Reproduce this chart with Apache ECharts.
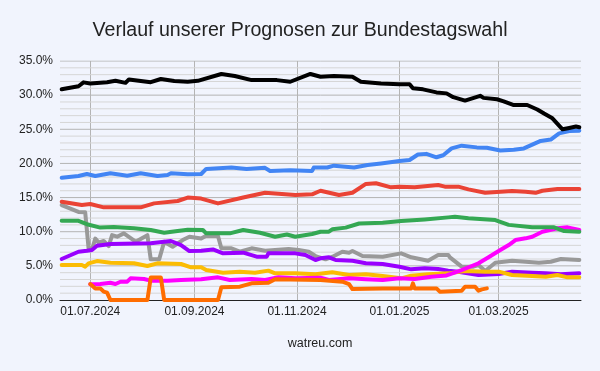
<!DOCTYPE html>
<html><head><meta charset="utf-8">
<script src="https://cdn.jsdelivr.net/npm/echarts@6/dist/echarts.min.js"></script>
<style>html,body{margin:0;padding:0;background:#f1f4fd}#c{width:600px;height:371px}</style>
</head><body><div id="c"></div>
<script>
const titleText = 'Verlauf unserer Prognosen zur Bundestagswahl';
const footerText = 'watreu.com';
const xMin = '2024-06-13';
const xMax = '2025-04-19';
const xTickDates = ['2024-07-01','2024-09-01','2024-11-01','2025-01-01','2025-03-01'];
const yTicks = [0,5,10,15,20,25,30,35];

const cdu = [['2024-06-14',30.85],['2024-06-24',31.3],['2024-06-27',31.87],['2024-07-01',31.7],['2024-07-11',31.9],['2024-07-16',32.1],['2024-07-22',31.8],['2024-07-24',32.3],['2024-08-06',31.9],['2024-08-12',32.36],['2024-08-20',32.06],['2024-08-28',31.96],['2024-09-03',32.1],['2024-09-17',33.1],['2024-09-25',32.8],['2024-10-05',32.2],['2024-10-20',32.2],['2024-10-28',31.96],['2024-11-09',33.1],['2024-11-15',32.7],['2024-11-23',32.8],['2024-12-04',32.7],['2024-12-09',31.96],['2024-12-21',31.7],['2025-01-01',31.6],['2025-01-07',31.6],['2025-01-09',31.0],['2025-01-15',30.85],['2025-01-23',30.4],['2025-01-29',30.26],['2025-02-02',29.7],['2025-02-09',29.2],['2025-02-18',29.9],['2025-02-20',29.6],['2025-02-28',29.4],['2025-03-04',29.1],['2025-03-10',28.55],['2025-03-18',28.55],['2025-03-24',27.9],['2025-03-28',27.3],['2025-04-02',26.6],['2025-04-08',25.0],['2025-04-12',25.2],['2025-04-16',25.4],['2025-04-18',25.3]];
const afd = [['2024-06-14',17.9],['2024-06-24',18.15],['2024-06-29',18.45],['2024-07-04',18.15],['2024-07-13',18.55],['2024-07-23',18.2],['2024-07-31',18.55],['2024-08-10',18.15],['2024-08-16',18.3],['2024-08-18',18.55],['2024-08-28',18.4],['2024-09-05',18.45],['2024-09-08',19.2],['2024-09-23',19.4],['2024-10-02',19.2],['2024-10-13',19.35],['2024-10-16',18.9],['2024-10-28',19.0],['2024-11-10',18.9],['2024-11-11',19.4],['2024-11-19',19.4],['2024-11-23',19.67],['2024-12-05',19.4],['2024-12-13',19.77],['2024-12-21',20.0],['2025-01-01',20.35],['2025-01-07',20.5],['2025-01-12',21.3],['2025-01-17',21.4],['2025-01-23',20.9],['2025-01-27',21.2],['2025-02-01',22.2],['2025-02-07',22.6],['2025-02-16',22.35],['2025-02-22',22.3],['2025-03-02',21.9],['2025-03-10',22.0],['2025-03-16',22.2],['2025-03-26',23.3],['2025-04-01',23.5],['2025-04-06',24.4],['2025-04-12',24.75],['2025-04-18',24.8]];
const spd = [['2024-06-14',14.4],['2024-06-26',13.9],['2024-07-01',14.05],['2024-07-09',13.57],['2024-07-31',13.57],['2024-08-08',14.15],['2024-08-22',14.5],['2024-08-28',15.0],['2024-09-05',14.85],['2024-09-15',14.15],['2024-09-30',15.0],['2024-10-13',15.7],['2024-10-31',15.37],['2024-11-10',15.47],['2024-11-15',16.0],['2024-11-26',15.37],['2024-12-04',15.7],['2024-12-12',17.0],['2024-12-18',17.1],['2024-12-27',16.5],['2025-01-01',16.6],['2025-01-10',16.5],['2025-01-24',16.84],['2025-01-28',16.6],['2025-02-05',16.6],['2025-02-11',16.2],['2025-02-21',15.7],['2025-03-09',15.96],['2025-03-17',15.86],['2025-03-23',15.7],['2025-03-27',16.0],['2025-04-05',16.25],['2025-04-18',16.25]];
const gruene = [['2024-06-14',11.6],['2024-06-24',11.6],['2024-06-29',11.1],['2024-07-07',10.6],['2024-07-15',10.7],['2024-07-27',10.5],['2024-08-06',10.25],['2024-08-14',9.85],['2024-08-22',10.1],['2024-08-28',10.3],['2024-09-06',10.25],['2024-09-08',9.76],['2024-09-22',9.76],['2024-09-30',10.25],['2024-10-10',9.85],['2024-10-19',9.27],['2024-10-26',9.6],['2024-10-31',9.27],['2024-11-10',9.66],['2024-11-15',10.0],['2024-11-20',10.0],['2024-11-22',10.35],['2024-11-30',10.6],['2024-12-08',11.2],['2024-12-22',11.3],['2025-01-02',11.57],['2025-01-16',11.8],['2025-01-30',12.1],['2025-02-03',12.2],['2025-02-11',11.96],['2025-02-27',11.7],['2025-03-07',11.0],['2025-03-21',10.64],['2025-04-03',10.64],['2025-04-09',10.1],['2025-04-18',10.0]];
const grau = [['2024-06-14',13.9],['2024-06-24',12.9],['2024-06-28',12.84],['2024-06-30',7.57],['2024-07-02',7.4],['2024-07-04',9.0],['2024-07-06',8.4],['2024-07-09',8.64],['2024-07-12',7.9],['2024-07-14',9.5],['2024-07-17',9.27],['2024-07-21',9.76],['2024-07-28',8.54],['2024-08-04',9.5],['2024-08-06',5.95],['2024-08-11',5.95],['2024-08-14',8.54],['2024-08-19',7.8],['2024-08-25',8.78],['2024-08-29',9.27],['2024-09-05',9.0],['2024-09-08',9.4],['2024-09-15',9.37],['2024-09-17',7.57],['2024-09-23',7.57],['2024-09-28',7.07],['2024-10-05',7.57],['2024-10-13',7.2],['2024-10-27',7.47],['2024-11-02',7.32],['2024-11-08',7.07],['2024-11-12',6.44],['2024-11-18',5.95],['2024-11-23',6.44],['2024-11-28',7.07],['2024-12-02',6.93],['2024-12-04',7.17],['2024-12-10',6.44],['2024-12-22',6.34],['2025-01-02',6.83],['2025-01-08',6.25],['2025-01-18',5.76],['2025-01-24',6.6],['2025-01-30',6.6],['2025-01-31',6.25],['2025-02-07',4.88],['2025-02-14',4.88],['2025-02-17',5.12],['2025-02-21',4.25],['2025-02-27',5.46],['2025-03-09',5.76],['2025-03-17',5.6],['2025-03-25',5.46],['2025-04-01',5.6],['2025-04-07',6.0],['2025-04-18',5.86]];
const lila = [['2024-06-14',6.0],['2024-06-24',7.07],['2024-06-29',7.2],['2024-07-02',7.32],['2024-07-05',7.95],['2024-07-13',8.2],['2024-08-06',8.3],['2024-08-18',8.64],['2024-08-24',8.05],['2024-08-29',7.17],['2024-09-05',7.2],['2024-09-12',7.4],['2024-09-18',6.83],['2024-09-30',6.93],['2024-10-08',6.34],['2024-10-14',6.34],['2024-10-15',6.83],['2024-10-31',6.83],['2024-11-06',6.6],['2024-11-12',5.86],['2024-11-15',6.1],['2024-11-20',6.25],['2024-11-24',5.86],['2024-12-04',5.76],['2024-12-12',5.37],['2024-12-22',5.27],['2025-01-01',4.88],['2025-01-08',4.49],['2025-01-16',4.64],['2025-01-24',4.54],['2025-01-30',4.3],['2025-02-05',4.15],['2025-02-17',3.66],['2025-03-01',3.8],['2025-03-09',4.15],['2025-03-21',4.0],['2025-03-29',3.9],['2025-04-07',3.76],['2025-04-18',3.9]];
const fdp = [['2024-06-14',5.12],['2024-06-26',5.12],['2024-06-28',4.88],['2024-06-30',5.37],['2024-07-05',5.7],['2024-07-13',5.46],['2024-07-27',5.37],['2024-08-04',4.98],['2024-08-10',5.37],['2024-08-24',5.27],['2024-08-30',4.78],['2024-09-05',4.8],['2024-09-08',4.39],['2024-09-18',4.0],['2024-09-28',4.15],['2024-10-07',4.0],['2024-10-15',4.3],['2024-10-19',3.9],['2024-10-31',3.9],['2024-11-12',3.76],['2024-11-22',4.05],['2024-12-02',3.66],['2024-12-12',3.76],['2024-12-22',3.51],['2025-01-02',3.17],['2025-01-08',3.56],['2025-01-18',3.76],['2025-01-30',3.9],['2025-02-09',4.25],['2025-02-21',4.15],['2025-03-01',4.15],['2025-03-09',3.66],['2025-03-21',3.51],['2025-03-29',3.41],['2025-04-05',3.66],['2025-04-11',3.32],['2025-04-18',3.32]];
const linke = [['2024-07-01',2.3],['2024-07-07',2.34],['2024-07-13',2.53],['2024-07-16',2.34],['2024-07-19',2.68],['2024-07-23',2.68],['2024-07-25',3.17],['2024-08-02',3.07],['2024-08-06',2.83],['2024-08-16',2.83],['2024-08-24',2.93],['2024-09-05',3.05],['2024-09-15',3.32],['2024-09-22',2.93],['2024-10-05',3.07],['2024-10-13',2.93],['2024-10-21',3.32],['2024-10-31',3.17],['2024-11-15',3.27],['2024-11-20',2.93],['2024-12-02',3.17],['2024-12-12',3.03],['2024-12-22',2.93],['2025-01-01',3.17],['2025-01-10',3.07],['2025-01-20',3.41],['2025-01-29',3.6],['2025-02-07',4.39],['2025-02-13',4.98],['2025-02-17',5.37],['2025-02-23',6.25],['2025-03-01',7.17],['2025-03-07',8.05],['2025-03-11',8.78],['2025-03-17',9.03],['2025-03-21',9.27],['2025-03-27',10.0],['2025-04-05',10.5],['2025-04-11',10.64],['2025-04-18',10.25]];
const orange = [['2024-07-01',2.34],['2024-07-04',1.7],['2024-07-07',1.7],['2024-07-09',1.22],['2024-07-11',1.07],['2024-07-13',0],['2024-08-04',0],['2024-08-06',3.3],['2024-08-12',3.3],['2024-08-14',0],['2024-09-15',0],['2024-09-17',1.86],['2024-09-28',1.95],['2024-10-05',2.44],['2024-10-15',2.53],['2024-10-19',3.03],['2024-11-15',2.93],['2024-11-28',2.68],['2024-12-02',2.34],['2024-12-04',1.6],['2024-12-22',1.7],['2025-01-08',1.7],['2025-01-09',2.44],['2025-01-10',1.7],['2025-01-23',1.7],['2025-01-25',1.22],['2025-02-07',1.36],['2025-02-09',1.95],['2025-02-15',1.95],['2025-02-17',1.36],['2025-02-19',1.56],['2025-02-22',1.7]];

const seriesDefs = [
  {data: grau, color: '#999999'},
  {data: lila, color: '#9900ff'},
  {data: fdp, color: '#fbbc04'},
  {data: linke, color: '#ff00ff'},
  {data: orange, color: '#ff6d01'},
  {data: gruene, color: '#34a853'},
  {data: spd, color: '#ea4335'},
  {data: afd, color: '#4285f4'},
  {data: cdu, color: '#000000'}
];

const ts = d => +echarts.time.parse(d);
const pad = n => (n < 10 ? '0' : '') + n;
const fmtDate = v => { const d = new Date(v); return pad(d.getDate()) + '.' + pad(d.getMonth() + 1) + '.' + d.getFullYear(); };
const tickVals = xTickDates.map(ts);
const font = 'Liberation Sans, Arial, sans-serif';
const yMin = yTicks[0], yMax = yTicks[yTicks.length - 1];
const x0 = ts(xMin), x1 = ts(xMax);

// horizontal grid: 1% minor lines, 5% major lines, drawn as thin line series through the scales
const gridSeries = [];
for (let v = yMin + 1; v <= yMax; v++) {
  const major = v % 5 === 0;
  gridSeries.push({
    type: 'line', z: 1, silent: true, showSymbol: false, symbol: 'none',
    data: [[x0, v], [x1, v]],
    lineStyle: {color: major ? '#b4b4b4' : '#d6d6d6', width: 1},
    emphasis: {disabled: true}, tooltip: {show: false}
  });
}

const chart = echarts.init(document.getElementById('c'));
chart.setOption({
  backgroundColor: '#f1f4fd',
  animation: false,
  graphic: [
    {type: 'text', x: 300, y: 31, style: {text: titleText, fill: '#222', font: '19.6px ' + font, textAlign: 'center', textVerticalAlign: 'middle'}},
    {type: 'text', x: 320, y: 344, style: {text: footerText, fill: '#222', font: '12.5px ' + font, textAlign: 'center', textVerticalAlign: 'middle'}}
  ],
  grid: {left: 60, right: 19, top: 61, bottom: 71, containLabel: false, show: false},
  xAxis: {
    type: 'value',
    min: x0, max: x1,
    axisLine: {show: true, onZero: false, lineStyle: {color: '#222', width: 1}},
    axisTick: {show: false, customValues: tickVals},
    axisLabel: {customValues: tickVals, color: '#222', fontFamily: font, fontSize: 12, margin: 6, formatter: fmtDate},
    splitLine: {show: true, lineStyle: {color: '#b4b4b4', width: 1, type: 'solid'}},
    splitArea: {show: false}
  },
  yAxis: {
    type: 'value', min: yMin, max: yMax, interval: 5,
    axisLine: {show: false}, axisTick: {show: false},
    axisLabel: {color: '#222', fontFamily: font, fontSize: 12, margin: 7, formatter: v => v.toFixed(1) + '%'},
    splitLine: {show: false},
    splitArea: {show: false}
  },
  series: gridSeries.concat(seriesDefs.map(s => ({
    type: 'line', z: 10, data: s.data.map(p => [ts(p[0]), p[1]]), showSymbol: false, symbol: 'none',
    lineStyle: {color: s.color, width: 4, join: 'round', cap: 'round'},
    itemStyle: {color: s.color}
  })))
});
</script></body></html>
